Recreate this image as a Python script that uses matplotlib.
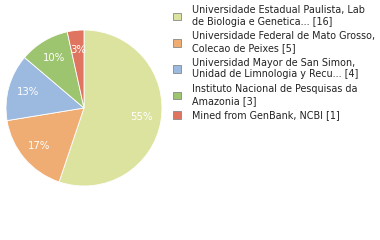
import matplotlib
matplotlib.use("Agg")
import matplotlib.pyplot as plt
from matplotlib.patches import Rectangle

labels = [
    "Universidade Estadual Paulista, Lab\nde Biologia e Genetica... [16]",
    "Universidade Federal de Mato Grosso,\nColecao de Peixes [5]",
    "Universidad Mayor de San Simon,\nUnidad de Limnologia y Recu... [4]",
    "Instituto Nacional de Pesquisas da\nAmazonia [3]",
    "Mined from GenBank, NCBI [1]",
]
values = [16, 5, 4, 3, 1]
colors = ["#dce39f", "#f0ad73", "#9cbae0", "#9dc46f", "#df7560"]

fig = plt.figure(figsize=(3.8, 2.4), dpi=100)
ax = fig.add_axes([84/380 - 78/380, 1 - (108 + 78)/240, 156/380, 156/240])
wedges, texts, autotexts = ax.pie(
    values, colors=colors, startangle=90, counterclock=False,
    autopct=lambda p: f"{int(p)}%", pctdistance=0.75,
    wedgeprops=dict(edgecolor="white", linewidth=0.6),
    textprops=dict(color="white", fontsize=7.3),
)
ax.set_xlim(-1, 1)
ax.set_ylim(-1, 1)
ax.set_aspect("equal")

handles = [Rectangle((0, 0), 1, 1, facecolor=c, edgecolor="#888888", linewidth=0.6) for c in colors]
leg = fig.legend(handles, labels, loc="upper left", bbox_to_anchor=(173/380, 1 - 5/240),
                 frameon=False, fontsize=6.9, handlelength=0.85, handleheight=0.85,
                 handletextpad=1.1, labelspacing=0.5, borderaxespad=0, borderpad=0)
for t in leg.get_texts():
    t.set_color("#222222")
    t.set_linespacing(1.2)

fig.savefig("out.png", dpi=100)
